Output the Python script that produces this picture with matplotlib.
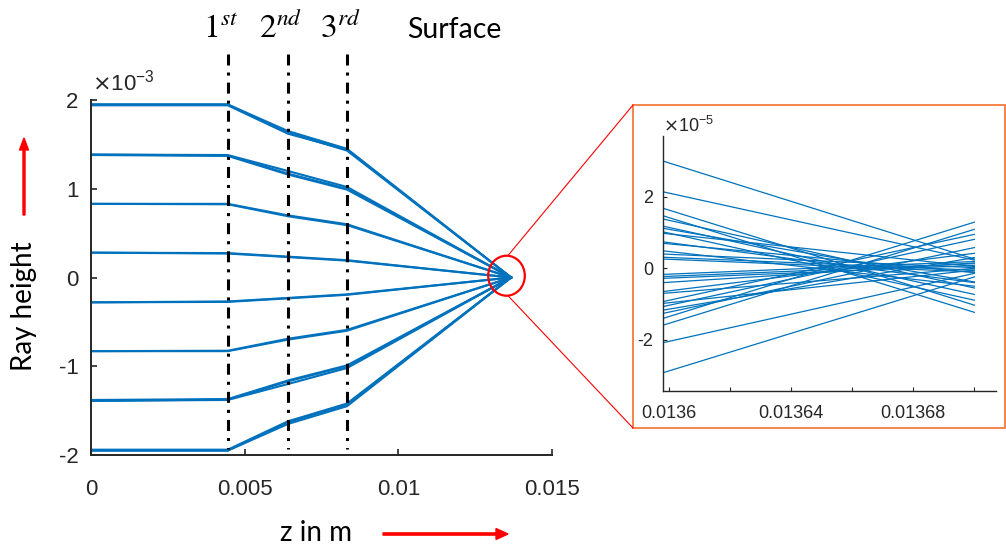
import matplotlib
matplotlib.use("Agg")
import matplotlib.pyplot as plt
from matplotlib.patches import Ellipse, Rectangle, FancyArrow
from matplotlib.lines import Line2D
from matplotlib.transforms import IdentityTransform

# ---- data (ray heights in units of 1e-3 m, inset in units of 1e-5 m) ----
z_points = [0, 0.00445, 0.00641, 0.00833, 0.01367]
surfaces = [0.00445, 0.00641, 0.00833]
surface_names = [r"$1^{st}$", r"$2^{nd}$", r"$3^{rd}$"]

rays_195 = [[1.95, 1.95, 1.65, 1.45, 0], [1.95, 1.95, 1.63, 1.43, 0], [1.94, 1.94, 1.62, 1.44, 0]]
rays_138 = [[1.385, 1.38, 1.20, 1.02, 0], [1.385, 1.375, 1.17, 1.00, 0], [1.38, 1.37, 1.16, 0.99, 0]]
rays_083 = [[0.83, 0.83, 0.70, 0.60, 0], [0.83, 0.825, 0.69, 0.59, 0]]
rays_028 = [[0.28, 0.275, 0.235, 0.195, 0], [0.28, 0.27, 0.23, 0.19, 0]]
rays_m028 = [[-0.28, -0.275, -0.235, -0.195, 0], [-0.28, -0.27, -0.23, -0.19, 0]]
rays_m083 = [[-0.83, -0.83, -0.70, -0.60, 0], [-0.83, -0.825, -0.69, -0.59, 0]]
rays_m138 = [[-1.39, -1.38, -1.20, -1.02, 0], [-1.39, -1.375, -1.17, -1.00, 0], [-1.38, -1.37, -1.16, -0.99, 0]]
rays_m195 = [[-1.95, -1.95, -1.65, -1.45, 0], [-1.95, -1.95, -1.63, -1.43, 0], [-1.94, -1.94, -1.62, -1.42, 0]]

inset_z = [0.013598, 0.0137]
inset_left = [3.00, 2.14, 1.68, 1.47, 1.38, 1.18, 1.12, 1.02, 0.98, 0.74, 0.70, 0.49, 0.40, 0.31, 0.26,
              -0.17, -0.23, -0.28, -0.40, -0.65, -0.70, -0.93, -0.98, -1.07, -1.17, -1.26, -1.40, -1.59, -2.08, -2.92]
inset_right = [0.26, 0.23, -1.03, -1.23, -0.55, -0.73, -0.38, -0.89, 0.05, -0.40, -0.12, -0.50, 0.02, -0.05, -0.10,
               0.19, 0.13, 0.08, 0.15, 0.42, 0.00, 0.95, -0.05, 0.81, 0.30, 0.58, 1.29, 1.09, -0.14, -0.24]

blue = '#0072BD'
W, H = 1006, 549


def fx(x):
    return x / W


def fy(y):
    return 1 - y / H


fig = plt.figure(figsize=(10.06, 5.49), dpi=100)

# main axes
ax = fig.add_axes([fx(91), fy(455), (552 - 91) / W, (455 - 100) / H])
for grp in [rays_195, rays_138, rays_083, rays_028, rays_m028, rays_m083, rays_m138, rays_m195]:
    for r in grp:
        ax.plot(z_points, r, color=blue, lw=1.5)

for s in surfaces:
    ax.plot([s, s], [2.52, -1.93], color='black', lw=2.2, linestyle=(0, (3.6, 2.3, 1.0, 2.3)),
            clip_on=False, zorder=5)

ax.set_xlim(0, 0.015)
ax.set_ylim(-2, 2)
ax.set_xticks([0, 0.005, 0.01, 0.015])
ax.set_xticklabels(['0', '0.005', '0.01', '0.015'])
ax.set_yticks([-2, -1, 0, 1, 2])
ax.set_yticklabels(['-2', '-1', '0', '1', '2'])
ax.spines['top'].set_visible(False)
ax.spines['right'].set_visible(False)
for sp in ['left', 'bottom']:
    ax.spines[sp].set_linewidth(1.4)
    ax.spines[sp].set_color('#262626')
ax.tick_params(direction='in', length=4, width=1.2, colors='#262626', labelsize=16,
               labelfontfamily='Liberation Sans')
ax.tick_params(axis='x', pad=17)
ax.tick_params(axis='y', pad=9)
fig.text(fx(92), fy(83), r'$\times\mathregular{10^{-3}}$', fontsize=16, family='Liberation Sans',
         color='#262626', va='center', ha='left')

# surface labels
for s, name in zip(surfaces, surface_names):
    xp = 91 + s / 0.015 * 461
    fig.text(fx(xp - 7), fy(38), name, fontsize=24, ha='center', va='baseline',
             math_fontfamily='stix')
fig.text(fx(454), fy(38), 'Surface', fontsize=20.5, family='Lato', ha='center', va='baseline')

# axis labels with red arrows (pixel coordinates, origin bottom-left)
fig.text(fx(24), fy(306), 'Ray height', fontsize=20, family='Lato', rotation=90,
         ha='center', va='center')
fig.text(fx(316), fy(533), 'z in m', fontsize=20, family='Lato', ha='center', va='center')
pix = IdentityTransform()
fig.add_artist(FancyArrow(383, H - 534, 113, 0, width=2.2, head_width=11, head_length=12,
                          length_includes_head=False, color='red', transform=pix))
fig.add_artist(FancyArrow(24, H - 215, 0, 65, width=2.0, head_width=9, head_length=12,
                          length_includes_head=False, color='red', transform=pix))

# zoom circle, connectors, box
fig.add_artist(Ellipse((fx(506.5), fy(275.7)), 36.6 / W, 40 / H, fill=False, edgecolor='red', lw=1.6,
                       transform=fig.transFigure))
fig.add_artist(Line2D([fx(508), fx(633)], [fy(255.5), fy(105)], color='red', lw=0.8))
fig.add_artist(Line2D([fx(508), fx(633)], [fy(295.7), fy(428)], color='red', lw=0.8))
fig.add_artist(Rectangle((fx(633), fy(428)), (1005 - 633) / W, (428 - 105) / H, fill=False,
                         edgecolor='#F47A3C', lw=1.3, transform=fig.transFigure))

# inset
ins = fig.add_axes([fx(663), fy(391), (995.7 - 663) / W, (391 - 136) / H])
for a, b in zip(inset_left, inset_right):
    ins.plot(inset_z, [a, b], color=blue, lw=0.9)
ins.set_xlim(0.013598, 0.013707)
ins.set_ylim(-3.43, 3.70)
ins.set_xticks([0.0136, 0.01362, 0.01364, 0.01366, 0.01368, 0.0137])
ins.set_xticklabels(['0.0136', '', '0.01364', '', '0.01368', ''])
ins.set_yticks([-2, 0, 2])
ins.set_yticklabels(['-2', '0', '2'])
ins.spines['top'].set_visible(False)
ins.spines['right'].set_visible(False)
for sp in ['left', 'bottom']:
    ins.spines[sp].set_linewidth(1.0)
    ins.spines[sp].set_color('#262626')
ins.tick_params(direction='in', length=3, width=0.8, colors='#262626', labelsize=13,
                labelfontfamily='Liberation Sans')
ins.tick_params(axis='x', pad=10)
ins.tick_params(axis='y', pad=7)
fig.text(fx(663), fy(126), r'$\times\mathregular{10^{-5}}$', fontsize=13, family='Liberation Sans',
         color='#262626', va='center', ha='left')

fig.savefig('out.png', dpi=100)
